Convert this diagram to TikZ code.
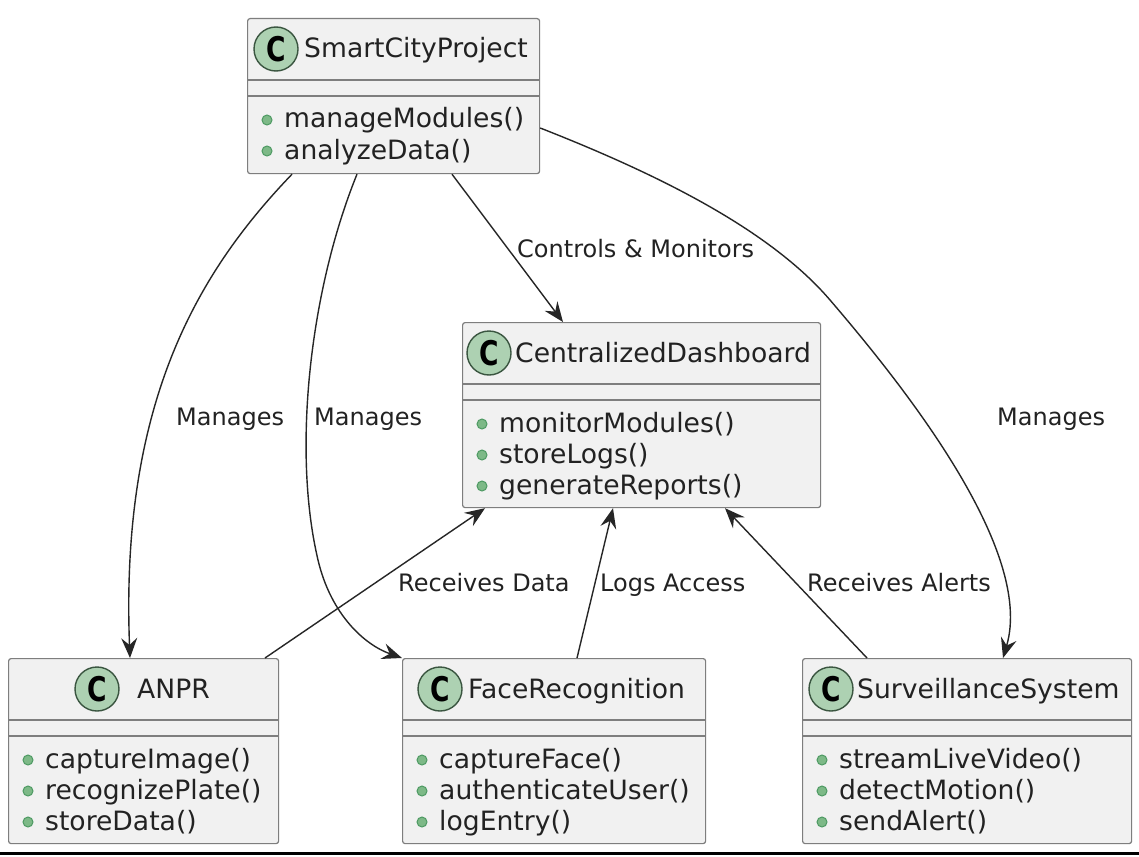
\documentclass[tikz,border=0pt]{standalone}
\usepackage{fontspec}
\setmainfont{DejaVu Sans}
\usetikzlibrary{arrows.meta,calc}
\definecolor{boxfill}{HTML}{F1F1F1}
\definecolor{boxdraw}{HTML}{7E7E7E}
\definecolor{iconfill}{HTML}{ADD1B2}
\definecolor{icondraw}{HTML}{3A5540}
\definecolor{bulfill}{HTML}{7DB987}
\definecolor{buldraw}{HTML}{4E9A63}
\definecolor{txt}{HTML}{222222}
\definecolor{lnk}{HTML}{262626}
\newcommand\clsfont{\fontsize{26.6}{31}\selectfont}
\newcommand\lblfont{\fontsize{24}{28}\selectfont}
\tikzset{
  cls/.style={draw=boxdraw, fill=boxfill, rounded corners=2.5pt, line width=1.2pt, inner sep=0pt, anchor=north west},
  sepline/.style={draw=boxdraw, line width=1.2pt},
  cicon/.style={circle, draw=icondraw, fill=iconfill, line width=1.4pt, minimum size=44pt, inner sep=0pt,
    text=black, font=\fontsize{34}{34}\selectfont\bfseries},
  bullet/.style={circle, draw=buldraw, fill=bulfill, line width=1pt, minimum size=10pt, inner sep=0pt},
  clstitle/.style={anchor=base west, inner sep=0pt, text=txt, font=\clsfont},
  meth/.style={anchor=base west, inner sep=0pt, text=txt, font=\clsfont},
  lbl/.style={anchor=base west, inner sep=0pt, text=txt, font=\lblfont},
  conn/.style={draw=lnk, line width=1.4pt, -{Stealth[length=20pt, width=16pt, inset=7pt]}}
}
% #1 name, #2 left, #3 top, #4 width, #5 height, #6 icon centre x, #7 title x, #8 title
\newcommand\umlcls[8]{%
  \node[cls, minimum width=#4pt, minimum height=#5pt] (#1) at (#2,#3) {};
  \draw[sepline] (#2,#3+62) -- ++(#4,0);
  \draw[sepline] (#2,#3+78) -- ++(#4,0);
  \node[cicon] (#1-icon) at (#6,#3+31) {\scalebox{0.78}[1]{C}};
  \node[clstitle] (#1-title) at (#7,#3+40) {#8};
}
% #1 name, #2 left, #3 baseline, #4 text
\newcommand\umlmeth[4]{%
  \node[bullet] (#1-b) at (#2+20,#3-8) {};
  \node[meth] (#1) at (#2+37,#3) {#4};
}
\begin{document}
\begin{tikzpicture}[x=1pt,y=-1pt]
\fill[white] (0,0) rectangle (1139,856);
\useasboundingbox (0,0) rectangle (1139,856);

% classes
\umlcls{scp}{247}{18}{292}{155}{276}{304}{SmartCityProject}
\umlmeth{scp-m1}{247}{128}{manageModules()}
\umlmeth{scp-m2}{247}{159}{analyzeData()}

\umlcls{dash}{462}{322}{358}{185}{489}{515}{CentralizedDashboard}
\umlmeth{dash-m1}{462}{432}{monitorModules()}
\umlmeth{dash-m2}{462}{463}{storeLogs()}
\umlmeth{dash-m3}{462}{494}{generateReports()}

\umlcls{anpr}{8}{658}{270}{185}{97}{137}{ANPR}
\umlmeth{anpr-m1}{8}{768}{captureImage()}
\umlmeth{anpr-m2}{8}{799}{recognizePlate()}
\umlmeth{anpr-m3}{8}{830}{storeData()}

\umlcls{face}{402}{658}{303}{185}{440}{468}{FaceRecognition}
\umlmeth{face-m1}{402}{768}{captureFace()}
\umlmeth{face-m2}{402}{799}{authenticateUser()}
\umlmeth{face-m3}{402}{830}{logEntry()}

\umlcls{surv}{802}{658}{329}{185}{831}{857}{SurveillanceSystem}
\umlmeth{surv-m1}{802}{768}{streamLiveVideo()}
\umlmeth{surv-m2}{802}{799}{detectMotion()}
\umlmeth{surv-m3}{802}{830}{sendAlert()}

% connectors
\draw[conn] ($(scp.south west)+(45,0)$) .. controls (200,270) and (120,400) .. ($(anpr.north west)+(122,0)$);
\draw[conn] ($(scp.south west)+(110,0)$) .. controls (310,290) and (292,450) .. (318,560)
  .. controls (331,615) and (365,645) .. (face.north west);
\draw[conn] ($(scp.south west)+(205,0)$) -- ($(dash.north west)+(101,0)$);
\draw[conn] ($(scp.north east)+(0,110)$) .. controls (660,175) and (770,230) .. (830,300)
  .. controls (902,384) and (1035,550) .. ($(surv.north west)+(201,0)$);
\draw[conn] ($(anpr.north west)+(257,0)$) -- ($(dash.south west)+(23,0)$);
\draw[conn] ($(face.north west)+(175,0)$) -- ($(dash.south west)+(151,0)$);
\draw[conn] ($(surv.north west)+(65,0)$) -- ($(dash.south west)+(263,0)$);

% labels
\node[lbl] (l-ctrl) at (517,257) {Controls \& Monitors};
\node[lbl] (l-man1) at (176,425) {Manages};
\node[lbl] (l-man2) at (314,425) {Manages};
\node[lbl] (l-man3) at (997,425) {Manages};
\node[lbl] (l-rd) at (398,591) {Receives Data};
\node[lbl] (l-la) at (600,591) {Logs Access};
\node[lbl] (l-ra) at (807,591) {Receives Alerts};

% bottom rule
\draw[line width=3pt, black] (0,853) -- (1139,853);
\end{tikzpicture}
\end{document}
